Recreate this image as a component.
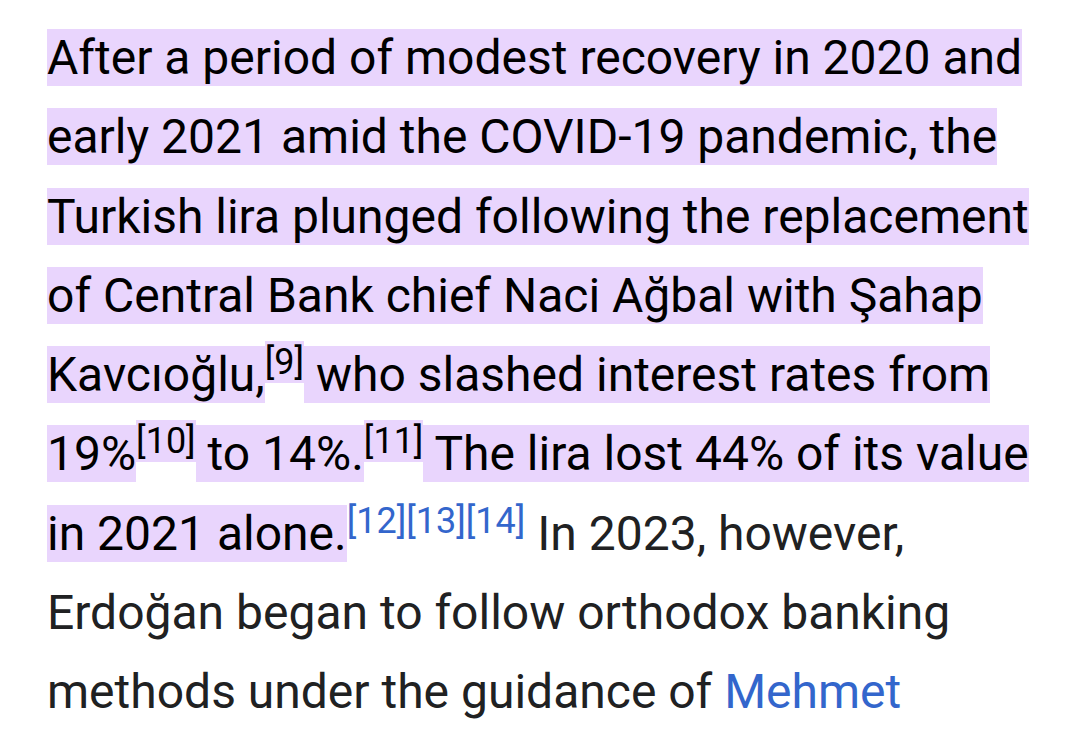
import React from "react";

// The reference is a text excerpt (not a chart): a highlighted paragraph.
// Each line is a list of segments: [text, kind]
// kinds: "hl" highlighted text, "hlsup" highlighted superscript,
//        "sup" blue superscript link, "plain" normal text, "link" blue link
type Seg = [string, string];

const line1: Seg[] = [["After a period of modest recovery in 2020 and", "hl"]];
const line2: Seg[] = [["early 2021 amid the COVID-19 pandemic, the", "hl"]];
const line3: Seg[] = [["Turkish lira plunged following the replacement", "hl"]];
const line4: Seg[] = [["of Central Bank chief Naci Ağbal with Şahap", "hl"]];
const line5: Seg[] = [
  ["Kavcıoğlu,", "hl"],
  ["[9]", "hlsup"],
  [" who slashed interest rates from", "hl"],
];
const line6: Seg[] = [
  ["19%", "hl"],
  ["[10]", "hlsup"],
  [" to 14%.", "hl"],
  ["[11]", "hlsup"],
  [" The lira lost 44% of its value", "hl"],
];
const line7: Seg[] = [
  ["in 2021 alone.", "hl"],
  ["[12][13][14]", "sup"],
  [" In 2023, however,", "plain"],
];
const line8: Seg[] = [["Erdoğan began to follow orthodox banking", "plain"]];
const line9: Seg[] = [
  ["methods under the guidance of ", "plain"],
  ["Mehmet", "link"],
];

const lines: Seg[][] = [line1, line2, line3, line4, line5, line6, line7, line8, line9];

const HL = "#e9d5fd";
const BLUE = "#3366cc";

function renderSeg(seg: Seg, i: number) {
  const [text, kind] = seg;
  const supStyle: React.CSSProperties = {
    fontSize: "0.75em",
    lineHeight: 1,
    verticalAlign: "super",
  };
  if (kind === "hl") {
    return (
      <span key={i} style={{ background: HL, color: "#000" }}>
        {text}
      </span>
    );
  }
  if (kind === "hlsup") {
    return (
      <sup key={i} style={{ ...supStyle, background: HL, color: "#000" }}>
        {text}
      </sup>
    );
  }
  if (kind === "sup") {
    return (
      <sup key={i} style={{ ...supStyle, color: BLUE }}>
        {text}
      </sup>
    );
  }
  if (kind === "link") {
    return (
      <span key={i} style={{ color: BLUE }}>
        {text}
      </span>
    );
  }
  return <span key={i}>{text}</span>;
}

export default function App() {
  return (
    <div
      style={{
        width: 1064,
        height: 722,
        overflow: "hidden",
        background: "#fff",
        boxSizing: "border-box",
        paddingTop: 10,
        paddingLeft: 39,
        fontFamily: "Roboto, 'Noto Sans', sans-serif",
        fontSize: 48,
        lineHeight: 1.65,
        color: "#202122",
        whiteSpace: "pre",
      }}
    >
      {lines.map((ln, li) => (
        <div key={li} style={{ height: 79.25 }}>
          {ln.map((s, i) => renderSeg(s, i))}
        </div>
      ))}
    </div>
  );
}
